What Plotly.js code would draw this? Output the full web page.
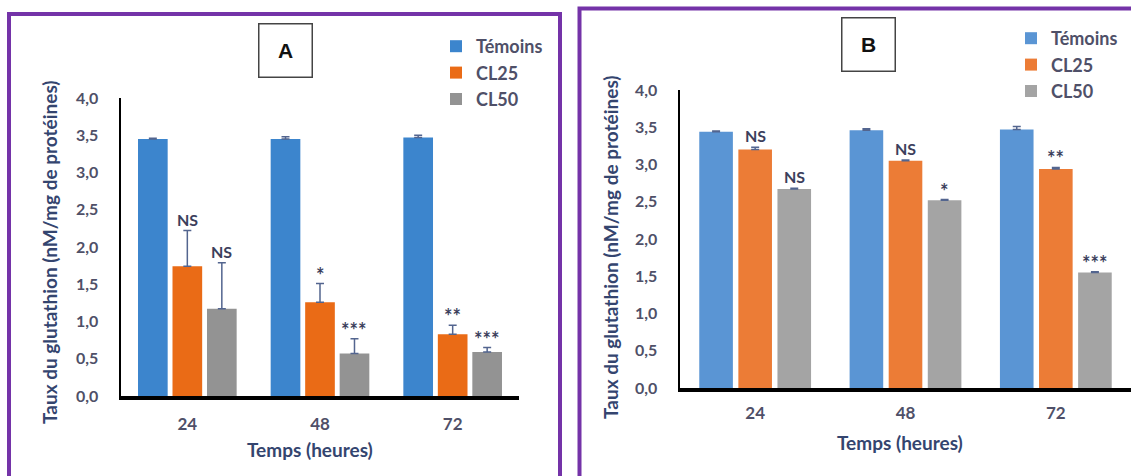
<!DOCTYPE html>
<html><head><meta charset="utf-8">
<script src="https://cdn.plot.ly/plotly-3.0.1.min.js"></script>
<style>html,body{margin:0;padding:0;background:#fff;}#chart{width:1131px;height:476px;}</style>
</head><body><div id="chart"></div>
<script>
// ---------- DATA ----------
const categories = ['24', '48', '72'];
const seriesNames = ['Témoins', 'CL25', 'CL50'];

// Panel A
const temoinsA = [3.45, 3.45, 3.47];
const temoinsAErr = [0.01, 0.03, 0.03];
const cl25A = [1.74, 1.26, 0.83];
const cl25AErr = [0.48, 0.25, 0.12];
const cl50A = [1.17, 0.57, 0.59];
const cl50AErr = [0.62, 0.20, 0.06];
const sigA25 = ['NS', '*', '**'];
const sigA50 = ['NS', '***', '***'];

// Panel B
const temoinsB = [3.44, 3.46, 3.47];
const temoinsBErr = [0.01, 0.02, 0.04];
const cl25B = [3.20, 3.05, 2.94];
const cl25BErr = [0.03, 0.01, 0.02];
const cl50B = [2.67, 2.52, 1.55];
const cl50BErr = [0.01, 0.01, 0.01];
const sigB25 = ['NS', 'NS', '**'];
const sigB50 = ['NS', '*', '***'];

const yTicks = [0, 0.5, 1, 1.5, 2, 2.5, 3, 3.5, 4];
const yTickText = ['0,0', '0,5', '1,0', '1,5', '2,0', '2,5', '3,0', '3,5', '4,0'];

// ---------- STYLE ----------
const W = 1131, H = 476;
const px = v => v / W, py = v => 1 - v / H;
const FONT = 'Lato, "Open Sans", sans-serif';
const textCol = '#4f5068';
const titleCol = '#34456f';
const errCol = '#53658f';
const colorsA = ['#3c85cd', '#ea6b16', '#939393'];
const colorsB = ['#5a95d4', '#ec7c36', '#a4a4a4'];
const BARGAP = 0.22;

function barTrace(name, y, err, color, xa, ya, legend) {
  return {
    type: 'bar', name: name, x: categories, y: y,
    xaxis: xa, yaxis: ya, legend: legend, legendgroup: legend + name,
    marker: {color: color, line: {width: 0}},
    error_y: {type: 'data', array: err, arrayminus: err.map(() => 0), symmetric: false,
      color: errCol, thickness: 1.5, width: 4},
    hoverinfo: 'y'
  };
}

const traces = [
  barTrace(seriesNames[0], temoinsA, temoinsAErr, colorsA[0], 'x', 'y', 'legend'),
  barTrace(seriesNames[1], cl25A, cl25AErr, colorsA[1], 'x', 'y', 'legend'),
  barTrace(seriesNames[2], cl50A, cl50AErr, colorsA[2], 'x', 'y', 'legend'),
  barTrace(seriesNames[0], temoinsB, temoinsBErr, colorsB[0], 'x2', 'y2', 'legend2'),
  barTrace(seriesNames[1], cl25B, cl25BErr, colorsB[1], 'x2', 'y2', 'legend2'),
  barTrace(seriesNames[2], cl50B, cl50BErr, colorsB[2], 'x2', 'y2', 'legend2')
];

const slot = (1 - BARGAP) / 3;
const annotations = [];
function addSig(labels, vals, errs, k, xa, ya) {
  labels.forEach((t, i) => {
    const star = t.indexOf('*') >= 0;
    annotations.push({
      text: t, x: i + (k - 1) * slot, y: vals[i] + errs[i], xref: xa, yref: ya,
      xanchor: 'center', yanchor: 'bottom', showarrow: false, yshift: star ? -5 : 0,
      font: {family: FONT, size: star ? 20 : 16, color: '#3c3f5c', weight: 700}
    });
  });
}
addSig(sigA25, cl25A, cl25AErr, 1, 'x', 'y');
addSig(sigA50, cl50A, cl50AErr, 2, 'x', 'y');
addSig(sigB25, cl25B, cl25BErr, 1, 'x2', 'y2');
addSig(sigB50, cl50B, cl50BErr, 2, 'x2', 'y2');

// Panel title boxes
annotations.push({text: '<b>A</b>', xref: 'paper', yref: 'paper', x: px(285), y: py(51),
  xanchor: 'center', yanchor: 'middle', showarrow: false, width: 50, height: 50,
  bordercolor: '#444', borderwidth: 1.5, bgcolor: '#fff',
  font: {family: 'Liberation Sans, Arial, sans-serif', size: 21, color: '#111'}});
annotations.push({text: '<b>B</b>', xref: 'paper', yref: 'paper', x: px(868), y: py(44.5),
  xanchor: 'center', yanchor: 'middle', showarrow: false, width: 50, height: 50,
  bordercolor: '#444', borderwidth: 1.5, bgcolor: '#fff',
  font: {family: 'Liberation Sans, Arial, sans-serif', size: 21, color: '#111'}});

// Axis titles
const yTitle = 'Taux du glutathion (nM/mg de protéines)';
const xTitle = 'Temps (heures)';
[[49, 252], [610, 247]].forEach(p => annotations.push({
  text: yTitle, xref: 'paper', yref: 'paper', x: px(p[0]), y: py(p[1]), textangle: -90,
  xanchor: 'center', yanchor: 'middle', showarrow: false,
  font: {family: FONT, size: 19, color: titleCol, weight: 700}}));
[[310, 449], [900, 442]].forEach(p => annotations.push({
  text: xTitle, xref: 'paper', yref: 'paper', x: px(p[0]), y: py(p[1]),
  xanchor: 'center', yanchor: 'middle', showarrow: false,
  font: {family: FONT, size: 19, color: titleCol, weight: 700}}));

function xAxis(domain, anchor, standoff) {
  return {domain: domain, anchor: anchor, type: 'category', showline: true, linecolor: '#000',
    linewidth: 4, ticks: '', showgrid: false, zeroline: false, fixedrange: true,
    ticklabelstandoff: standoff,
    tickfont: {family: FONT, size: 17, color: textCol, weight: 700}};
}
function yAxis(domain, anchor) {
  return {domain: domain, anchor: anchor, range: [0, 4], showline: true, linecolor: '#000',
    linewidth: 2.5, ticks: '', showgrid: false, zeroline: false, fixedrange: true,
    tickvals: yTicks, ticktext: yTickText, ticklabelstandoff: 17,
    tickfont: {family: FONT, size: 16, color: textCol, weight: 700}};
}

function legendCfg(x, y) {
  return {x: px(x), y: py(y), xanchor: 'left', yanchor: 'top', bgcolor: 'rgba(0,0,0,0)',
    font: {family: FONT, size: 18, color: textCol, weight: 700}, tracegroupgap: 0,
    itemwidth: 30, traceorder: 'normal'};
}

const layout = {
  width: W, height: H, margin: {l: 0, r: 0, t: 0, b: 0},
  paper_bgcolor: '#fff', plot_bgcolor: 'rgba(0,0,0,0)',
  barmode: 'group', bargap: BARGAP, bargroupgap: 0.14,
  showlegend: true,
  xaxis: xAxis([px(121), px(519)], 'y', 10),
  yaxis: yAxis([py(396), py(98)], 'x'),
  xaxis2: xAxis([px(680), 1], 'y2', 7),
  yaxis2: yAxis([py(388), py(90)], 'x2'),
  legend: legendCfg(436, 28),
  legend2: legendCfg(1011, 20),
  annotations: annotations,
  shapes: [
    {type: 'rect', xref: 'paper', yref: 'paper', x0: px(9), x1: px(560), y0: -0.1, y1: py(14),
      line: {color: '#7433a8', width: 4}, layer: 'below'},
    {type: 'rect', xref: 'paper', yref: 'paper', x0: px(579.5), x1: 1.1, y0: -0.1, y1: py(8.5),
      line: {color: '#7433a8', width: 4}, layer: 'below'}
  ]
};

Plotly.newPlot('chart', traces, layout, {displayModeBar: false, staticPlot: true});
</script></body></html>
